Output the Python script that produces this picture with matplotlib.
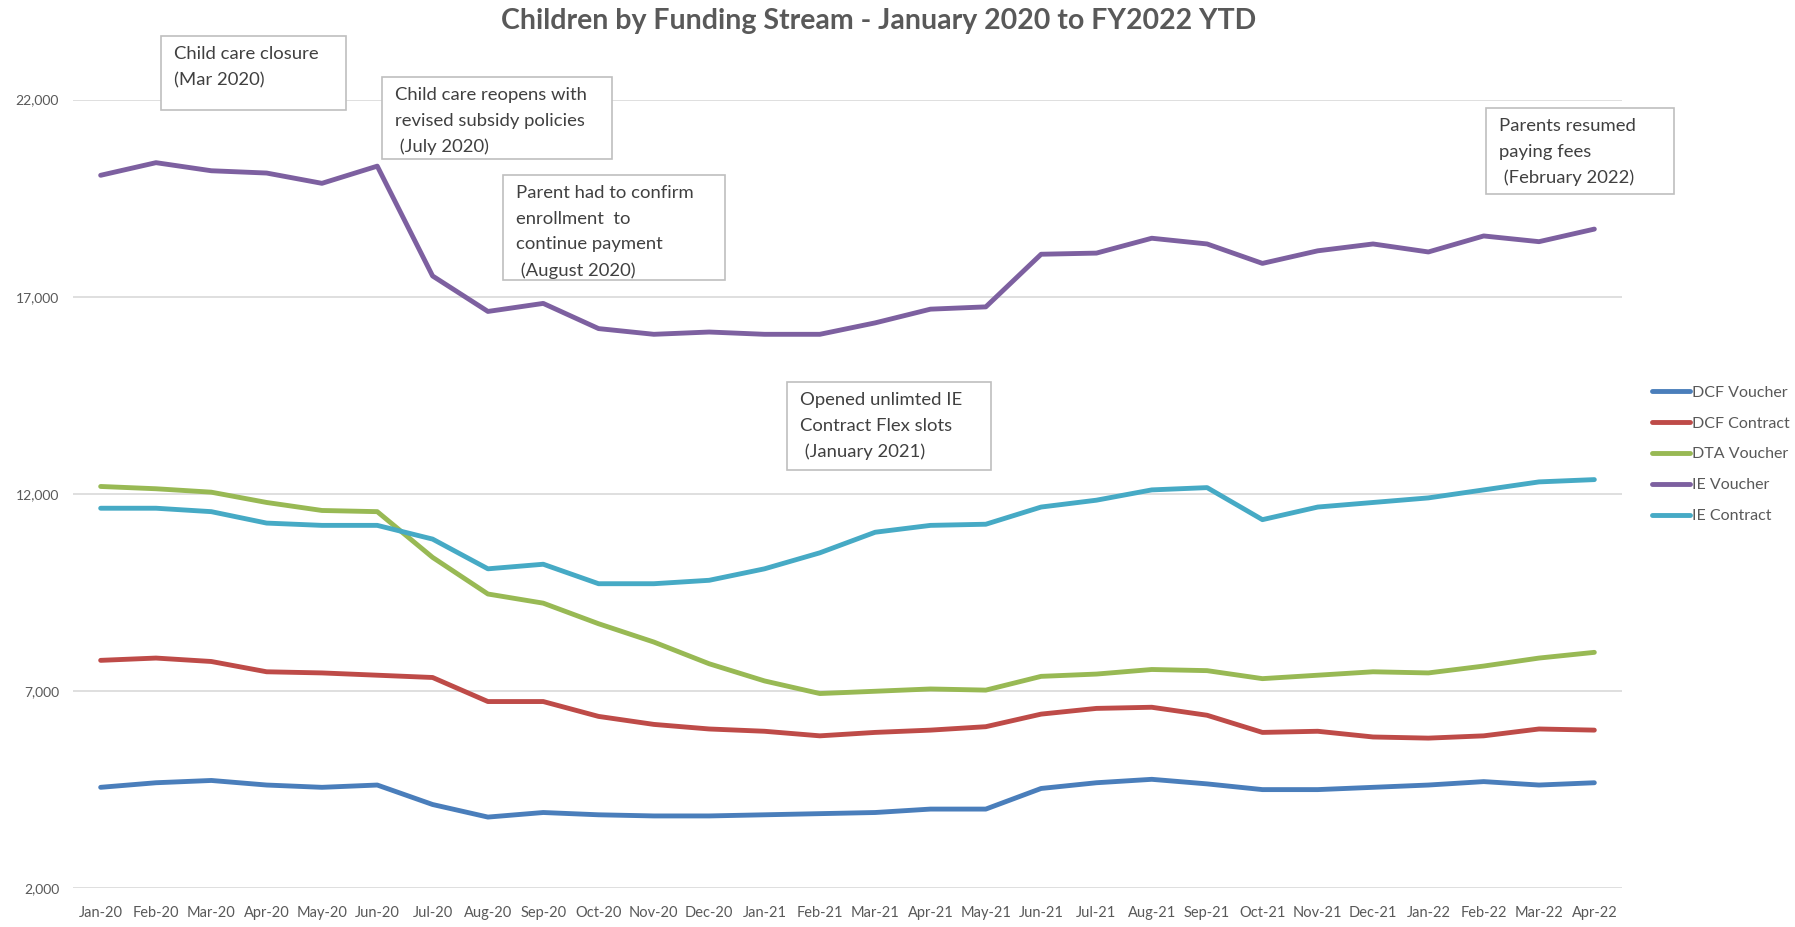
import matplotlib
matplotlib.use('Agg')
import matplotlib.pyplot as plt
from matplotlib.patches import Rectangle
from matplotlib.ticker import FuncFormatter

plt.rcParams['font.family'] = ['Lato', 'DejaVu Sans']

months = ['Jan-20', 'Feb-20', 'Mar-20', 'Apr-20', 'May-20', 'Jun-20', 'Jul-20',
          'Aug-20', 'Sep-20', 'Oct-20', 'Nov-20', 'Dec-20', 'Jan-21', 'Feb-21',
          'Mar-21', 'Apr-21', 'May-21', 'Jun-21', 'Jul-21', 'Aug-21', 'Sep-21',
          'Oct-21', 'Nov-21', 'Dec-21', 'Jan-22', 'Feb-22', 'Mar-22', 'Apr-22']

dcf_voucher = [4554, 4670, 4728, 4612, 4554, 4612, 4118, 3799, 3915, 3857, 3828, 3828,
               3857, 3886, 3915, 4002, 4002, 4525, 4670, 4757, 4641, 4496, 4496, 4554,
               4612, 4699, 4612, 4670]
dcf_contract = [7775, 7833, 7746, 7485, 7456, 7398, 7340, 6730, 6730, 6353, 6150, 6034,
                5976, 5860, 5947, 6005, 6092, 6411, 6556, 6585, 6382, 5947, 5976, 5831,
                5802, 5860, 6034, 6005]
dta_voucher = [12186, 12128, 12041, 11780, 11577, 11547, 10387, 9458, 9226, 8704, 8239,
               7688, 7253, 6933, 6991, 7049, 7020, 7369, 7427, 7543, 7514, 7311, 7398,
               7485, 7456, 7630, 7833, 7978]
ie_voucher = [20080, 20400, 20195, 20137, 19876, 20312, 17526, 16626, 16830, 16191, 16046,
              16104, 16046, 16046, 16336, 16684, 16742, 18077, 18106, 18483, 18338, 17845,
              18164, 18338, 18135, 18541, 18396, 18715]
ie_contract = [11634, 11634, 11547, 11257, 11199, 11199, 10851, 10097, 10213, 9719, 9719,
               9806, 10097, 10503, 11025, 11199, 11228, 11664, 11838, 12099, 12157, 11344,
               11664, 11780, 11896, 12099, 12302, 12360]

series = [('DCF Voucher', dcf_voucher, '#4a7ebb'),
          ('DCF Contract', dcf_contract, '#be4b48'),
          ('DTA Voucher', dta_voucher, '#98b954'),
          ('IE Voucher', ie_voucher, '#7d60a0'),
          ('IE Contract', ie_contract, '#46aac5')]

# event call-outs: text and box edges in figure pixels (left, top, right, bottom)
notes = [('Child care closure\n(Mar 2020)', 161, 36, 346, 110),
         ('Child care reopens with\nrevised subsidy policies\n (July 2020)', 382, 77, 612, 159),
         ('Parent had to confirm\nenrollment  to\ncontinue payment\n (August 2020)', 503, 175, 725, 280),
         ('Opened unlimted IE\nContract Flex slots\n (January 2021)', 787, 382, 991, 470),
         ('Parents resumed\npaying fees\n (February 2022)', 1486, 108, 1674, 194)]

W, H = 1795, 927
fig = plt.figure(figsize=(W / 100, H / 100), dpi=100)
ax = fig.add_axes([73 / W, 1 - 888 / H, (1622 - 73) / W, (888 - 99.6) / H])

x = list(range(len(months)))
for name, vals, color in series:
    ax.plot(x, vals, color=color, lw=3.5, label=name, solid_capstyle='round',
            solid_joinstyle='round')

ax.set_xlim(-0.5, len(months) - 0.5)
ax.set_ylim(2000, 22000)
ax.set_yticks([2000, 7000, 12000, 17000, 22000])
ax.yaxis.set_major_formatter(FuncFormatter(lambda v, p: f'{int(v):,}'))
ax.set_xticks(x)
ax.set_xticklabels(months)
ax.grid(axis='y', color='#d9d9d9', lw=1.2)
ax.set_axisbelow(True)
for s in ax.spines.values():
    s.set_visible(False)
ax.tick_params(axis='both', length=0, colors='#595959')
ax.tick_params(axis='x', pad=13, labelsize=10.5)
ax.tick_params(axis='y', pad=10, labelsize=10)

fig.text(879 / W, 1 - 21 / H, 'Children by Funding Stream - January 2020 to FY2022 YTD',
         ha='center', va='center', fontsize=20.5, fontweight='bold', color='#595959')

leg = ax.legend(loc='center left', bbox_to_anchor=(1.015, 0.55), frameon=False,
                fontsize=11.5, handlelength=2.4, handletextpad=0.15, labelspacing=1.05,
                borderaxespad=0)
for t in leg.get_texts():
    t.set_color('#595959')

for text, x0, y0, x1, y1 in notes:
    fig.patches.append(Rectangle((x0 / W, 1 - y1 / H), (x1 - x0) / W, (y1 - y0) / H,
                                 transform=fig.transFigure, facecolor='white',
                                 edgecolor='#bfbfbf', lw=1.2, zorder=5))
    fig.text((x0 + 13) / W, 1 - (y0 + 10) / H, text, ha='left', va='top',
             fontsize=13.3, color='#404040', linespacing=1.75, zorder=6)

fig.savefig('out.png', dpi=100)
